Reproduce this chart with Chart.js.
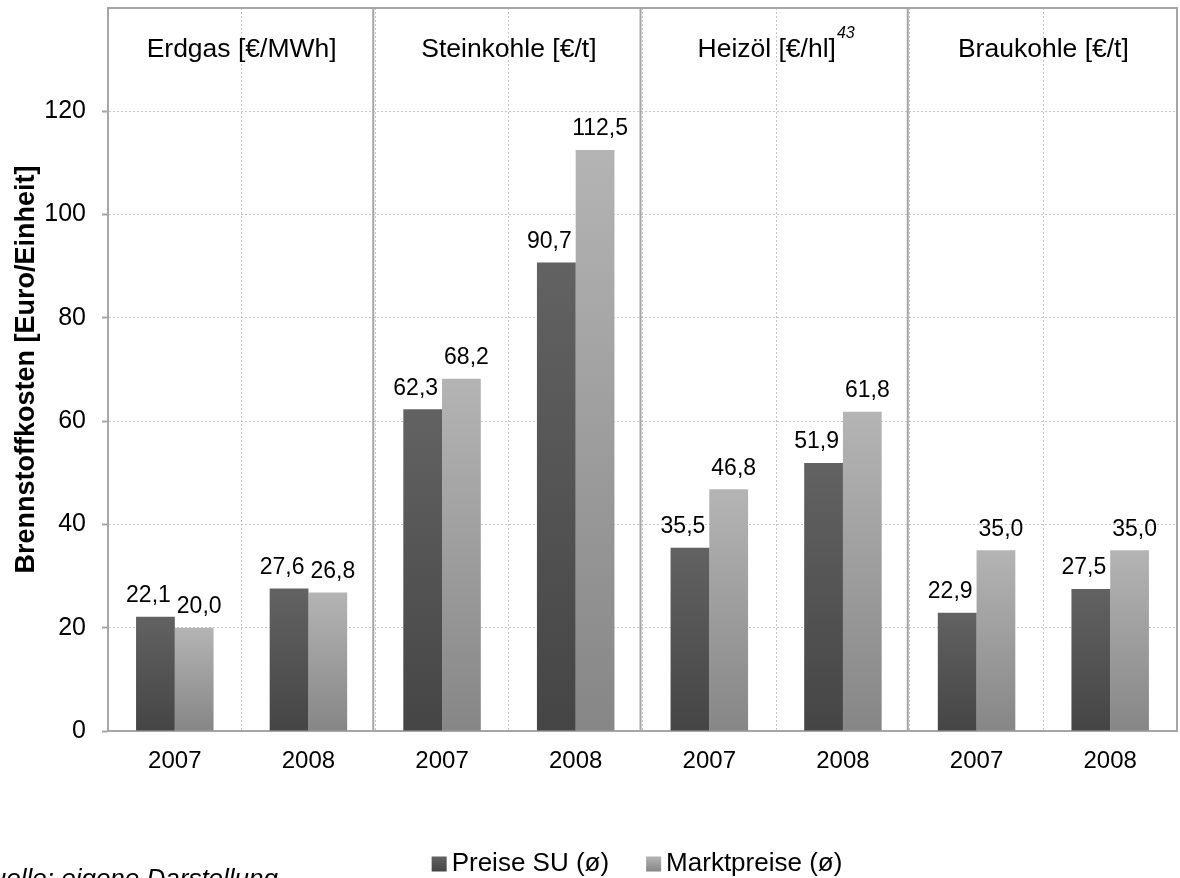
<!DOCTYPE html>
<html>
<head>
<meta charset="utf-8">
<script src="https://cdn.jsdelivr.net/npm/chart.js@4.4.0/dist/chart.umd.min.js"></script>
<style>
  html, body { margin: 0; padding: 0; background: #fff; }
</style>
</head>
<body>
<canvas id="chart" width="1180" height="878"></canvas>
<script>
// --- data ---
const years = ['2007', '2008', '2007', '2008', '2007', '2008', '2007', '2008'];
const groups = ['Erdgas [€/MWh]', 'Steinkohle [€/t]', 'Heizöl [€/hl]', 'Braukohle [€/t]'];
const groupNotes = ['', '', '43', ''];
const preiseSU = [22.1, 27.6, 62.3, 90.7, 35.5, 51.9, 22.9, 27.5];
const marktpreise = [20.0, 26.8, 68.2, 112.5, 46.8, 61.8, 35.0, 35.0];
const yTicks = [0, 20, 40, 60, 80, 100, 120];
const seriesNames = ['Preise SU (ø)', 'Marktpreise (ø)'];

const FONT = '"Liberation Sans", Arial, sans-serif';
const FRAME = '#a6a6a6';
const FILLS = [['#626262', '#454545'], ['#b4b4b4', '#868686']];

// vertical gradient per bar, like the Excel fill
function barFill(top, bottom) {
    return function (ctx) {
        const y = ctx.chart.scales.y;
        if (ctx.type !== 'data' || !y || !ctx.parsed) return top;
        const y0 = y.getPixelForValue(0);
        const y1 = y.getPixelForValue(ctx.parsed.y);
        if (!isFinite(y0) || !isFinite(y1) || y0 === y1) return top;
        const g = ctx.chart.ctx.createLinearGradient(0, y1, 0, y0);
        g.addColorStop(0, top);
        g.addColorStop(1, bottom);
        return g;
    };
}

const decor = {
    id: 'decor',
    afterDatasetsDraw(chart) {
        const ctx = chart.ctx;
        const area = chart.chartArea;
        const x = chart.scales.x;
        const y = chart.scales.y;

        // frame + group dividers
        ctx.save();
        ctx.strokeStyle = FRAME;
        ctx.lineWidth = 2;
        ctx.beginPath();
        ctx.moveTo(area.left, area.top);
        ctx.lineTo(area.right, area.top);
        ctx.lineTo(area.right, area.bottom);
        for (let g = 1; g < groups.length; g++) {
            const bx = (x.getPixelForValue(2 * g - 1) + x.getPixelForValue(2 * g)) / 2 - 2;
            ctx.moveTo(bx, area.top);
            ctx.lineTo(bx, area.bottom);
        }
        ctx.stroke();
        ctx.restore();

        // value labels
        ctx.save();
        ctx.font = '23px ' + FONT;
        ctx.fillStyle = '#000';
        ctx.textAlign = 'center';
        ctx.textBaseline = 'middle';
        chart.data.datasets.forEach((ds, di) => {
            const meta = chart.getDatasetMeta(di);
            meta.data.forEach((bar, i) => {
                const shift = di === 0 ? -7 : 5;
                ctx.fillText(ds.data[i].toFixed(1).replace('.', ','), bar.x + shift, bar.y - 21);
            });
        });
        ctx.restore();

        // group headers
        ctx.save();
        ctx.fillStyle = '#000';
        ctx.textBaseline = 'middle';
        const hy = y.getPixelForValue(132);
        groups.forEach((name, g) => {
            const cx = (x.getPixelForValue(2 * g) + x.getPixelForValue(2 * g + 1)) / 2;
            ctx.font = '26.5px ' + FONT;
            const w = ctx.measureText(name).width;
            let sw = 0;
            if (groupNotes[g]) {
                ctx.font = 'italic 16px ' + FONT;
                sw = ctx.measureText(groupNotes[g]).width + 1;
            }
            const left = cx - (w + sw) / 2;
            ctx.font = '26.5px ' + FONT;
            ctx.textAlign = 'left';
            ctx.fillText(name, left, hy);
            if (groupNotes[g]) {
                ctx.font = 'italic 16px ' + FONT;
                ctx.fillText(groupNotes[g], left + w + 1, hy - 16);
            }
        });
        ctx.restore();

        // legend
        ctx.save();
        ctx.font = '26px ' + FONT;
        ctx.textBaseline = 'middle';
        ctx.textAlign = 'left';
        const gap = 37;
        const widths = seriesNames.map(s => 20 + ctx.measureText(s).width);
        let lx = 637 - (widths[0] + widths[1] + gap) / 2;
        const ly = 864;
        seriesNames.forEach((s, i) => {
            const g = ctx.createLinearGradient(0, ly - 7.5, 0, ly + 7.5);
            g.addColorStop(0, FILLS[i][0]);
            g.addColorStop(1, FILLS[i][1]);
            ctx.fillStyle = g;
            ctx.fillRect(lx, ly - 7.5, 15, 15);
            ctx.fillStyle = '#000';
            ctx.fillText(s, lx + 20, ly);
            lx += widths[i] + gap;
        });
        ctx.restore();

        // source note, cut off at the page edge
        ctx.save();
        ctx.font = 'italic 26px ' + FONT;
        ctx.fillStyle = '#000';
        ctx.textAlign = 'right';
        ctx.textBaseline = 'alphabetic';
        ctx.fillText('Quelle: eigene Darstellung', 278, 887);
        ctx.restore();
    }
};

new Chart(document.getElementById('chart'), {
    type: 'bar',
    data: {
        labels: years,
        datasets: [
            {
                label: seriesNames[0],
                data: preiseSU,
                backgroundColor: barFill(FILLS[0][0], FILLS[0][1]),
                borderWidth: 0,
                categoryPercentage: 0.58,
                barPercentage: 1.0
            },
            {
                label: seriesNames[1],
                data: marktpreise,
                backgroundColor: barFill(FILLS[1][0], FILLS[1][1]),
                borderWidth: 0,
                categoryPercentage: 0.58,
                barPercentage: 1.0
            }
        ]
    },
    options: {
        responsive: false,
        animation: false,
        layout: { padding: { top: 8, right: 3, left: 0, bottom: 0 } },
        plugins: {
            legend: { display: false },
            tooltip: { enabled: false }
        },
        scales: {
            x: {
                grid: {
                    color: '#c4c4c4',
                    lineWidth: 1,
                    drawTicks: false
                },
                border: { color: FRAME, width: 2, dash: [2, 2] },
                ticks: {
                    color: '#000',
                    font: { family: FONT, size: 24 },
                    padding: 16,
                    maxRotation: 0
                },
                afterFit(scale) { scale.height = 147; }
            },
            y: {
                min: 0,
                max: 140,
                afterBuildTicks(scale) {
                    scale.ticks = yTicks.map(v => ({ value: v }));
                },
                grid: {
                    color: '#c4c4c4',
                    lineWidth: 1,
                    tickColor: FRAME,
                    tickLength: 6,
                    tickWidth: 2
                },
                border: { color: FRAME, width: 2, dash: [2, 2] },
                ticks: {
                    color: '#000',
                    font: { family: FONT, size: 25 },
                    padding: 16
                },
                title: {
                    display: true,
                    text: 'Brennstoffkosten [Euro/Einheit]',
                    color: '#000',
                    font: { family: FONT, size: 27, weight: 'bold' },
                    padding: { top: 10, bottom: 0 }
                },
                afterFit(scale) {
                    scale.width = 108;
                    scale.paddingTop = 0;
                    scale.paddingBottom = 0;
                }
            }
        }
    },
    plugins: [decor]
});
</script>
</body>
</html>
